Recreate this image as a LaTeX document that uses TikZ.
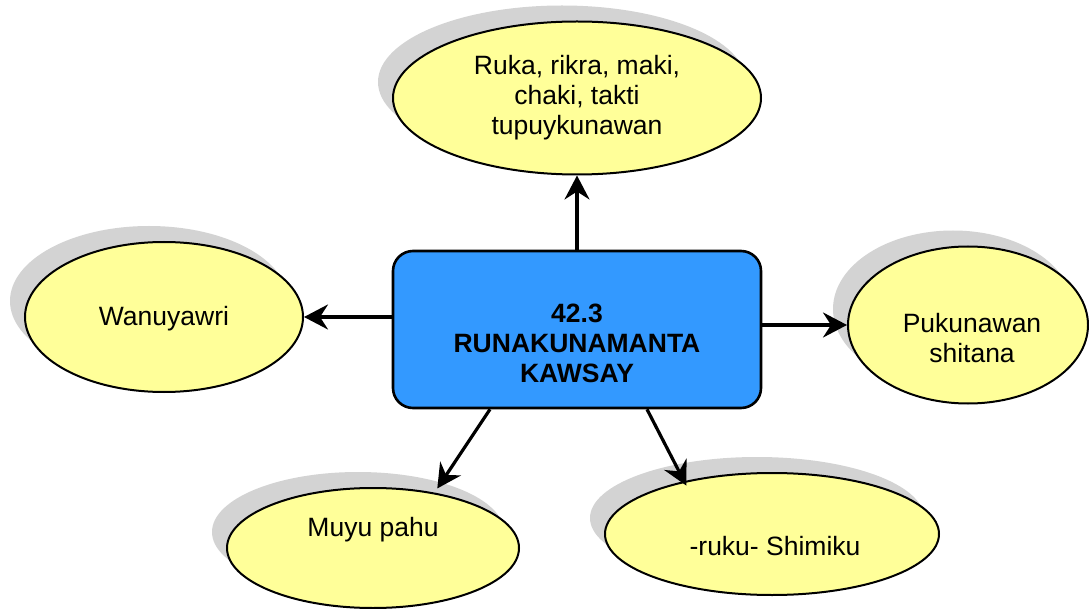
\documentclass[tikz,border=0pt]{standalone}
\usepackage{fontspec}
\setmainfont{Liberation Sans}
\usetikzlibrary{shapes.geometric,shadows,arrows.meta,calc}
\definecolor{ellfill}{HTML}{FFFF99}
\definecolor{boxfill}{HTML}{3399FF}
\definecolor{shadowgray}{HTML}{D3D3D3}
\tikzset{
  ell/.style={ellipse, draw=black, line width=2pt, fill=ellfill, inner sep=0pt,
    general shadow={fill=shadowgray, shadow xshift=-15pt, shadow yshift=16pt}},
  mainbox/.style={rectangle, rounded corners=20pt, draw=black, line width=2.6pt, fill=boxfill, inner sep=0pt},
  txt/.style={align=center, font=\fontsize{26.5}{30}\selectfont, inner sep=0pt},
  conn/.style={line width=3.2pt, -{Stealth[length=24pt,width=25pt,inset=8pt]}}
}
\begin{document}
\begin{tikzpicture}[x=1pt,y=-1pt]
\useasboundingbox (0,0) rectangle (1089,609);
% nodes
\node[ell, minimum width=368pt, minimum height=153pt] (top) at (577,98) {};
\node[ell, minimum width=278pt, minimum height=150pt] (wan) at (164,317) {};
\node[ell, minimum width=240pt, minimum height=157pt] (puk) at (968,325) {};
\node[ell, minimum width=292pt, minimum height=120pt] (muyu) at (373,548) {};
\node[ell, minimum width=334pt, minimum height=122pt] (ruku) at (772,534) {};
\node[mainbox, minimum width=368pt, minimum height=157pt] (box) at (577,329.5) {};
% texts
\node[txt] (ttop) at (577,98) {Ruka, rikra, maki,\\chaki, takti\\tupuykunawan};
\node[txt] (twan) at (164,319) {Wanuyawri};
\node[txt] (tpuk) at (972,338) {Pukunawan\\shitana};
\node[txt] (tmuyu) at (373,530) {Muyu pahu};
\node[txt] (truku) at (775,546) {-ruku- Shimiku};
\node[txt, font=\fontsize{26.5}{30}\selectfont\bfseries] (tbox) at (577,343) {42.3\\RUNAKUNAMANTA\\KAWSAY};
% connectors
\draw[conn] (box.north) -- (top.south);
\draw[conn] (box.west |- wan.east) -- (wan.east);
\draw[conn] (box.east |- puk.west) -- (puk.west);
\draw[conn, shorten >=5pt] ($(box.south)+(-87,0)$) -- (muyu.42.6);
\draw[conn, shorten >=-5pt] ($(box.south)+(70,0)$) -- (ruku.149.4);
\end{tikzpicture}
\end{document}
